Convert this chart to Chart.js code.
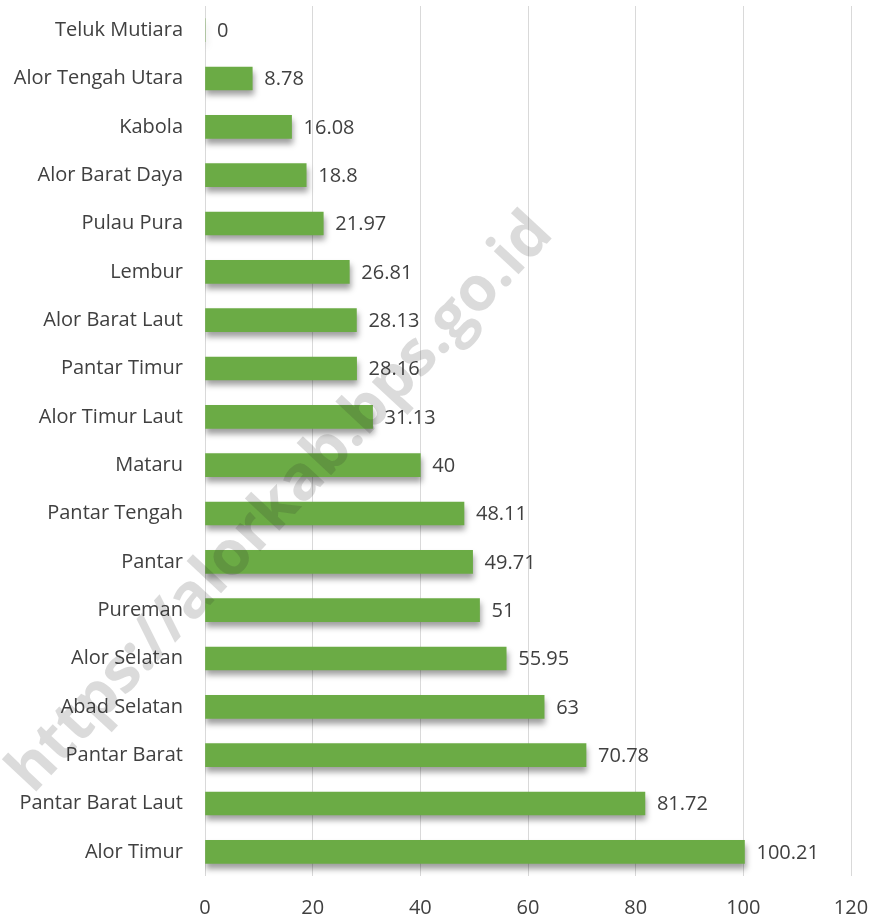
<!DOCTYPE html>
<html>
<head>
<meta charset="utf-8">
<script src="https://cdn.jsdelivr.net/npm/chart.js@4"></script>
<style>
  html, body { margin: 0; padding: 0; background: #ffffff; }
  #wrap { width: 877px; height: 919px; }
</style>
</head>
<body>
<div id="wrap"><canvas id="chart" width="877" height="919"></canvas></div>
<script>
// Kecamatan dan nilai (urutan atas ke bawah)
const categories = [
  "Teluk Mutiara", "Alor Tengah Utara", "Kabola", "Alor Barat Daya", "Pulau Pura",
  "Lembur", "Alor Barat Laut", "Pantar Timur", "Alor Timur Laut", "Mataru",
  "Pantar Tengah", "Pantar", "Pureman", "Alor Selatan", "Abad Selatan",
  "Pantar Barat", "Pantar Barat Laut", "Alor Timur"
];
const values = [
  0, 8.78, 16.08, 18.8, 21.97,
  26.81, 28.13, 28.16, 31.13, 40,
  48.11, 49.71, 51, 55.95, 63,
  70.78, 81.72, 100.21
];
const xTicks = [0, 20, 40, 60, 80, 100, 120];
const watermark = "https://alorkab.bps.go.id";

const FONT = "'Open Sans', 'Liberation Sans', sans-serif";

// bayangan di bawah batang
const barShadow = {
  id: "barShadow",
  beforeDatasetDraw(chart) {
    const ctx = chart.ctx;
    ctx.save();
    ctx.shadowColor = "rgba(0,0,0,0.38)";
    ctx.shadowBlur = 6;
    ctx.shadowOffsetX = 1;
    ctx.shadowOffsetY = 5;
  },
  afterDatasetDraw(chart) {
    chart.ctx.restore();
  }
};

// angka di ujung batang
const valueLabels = {
  id: "valueLabels",
  afterDatasetsDraw(chart) {
    const ctx = chart.ctx;
    const meta = chart.getDatasetMeta(0);
    ctx.save();
    ctx.font = "20px " + FONT;
    ctx.fillStyle = "#404040";
    ctx.textAlign = "left";
    ctx.textBaseline = "middle";
    meta.data.forEach((bar, i) => {
      ctx.fillText(String(values[i]), bar.x + 12, bar.y + 1);
    });
    ctx.restore();
  }
};

// tanda air diagonal
const watermarkText = {
  id: "watermarkText",
  afterDraw(chart) {
    const ctx = chart.ctx;
    ctx.save();
    ctx.translate(281, 503);
    ctx.rotate(-47 * Math.PI / 180);
    ctx.font = "bold 62px " + FONT;
    ctx.fillStyle = "rgba(40,40,40,0.17)";
    ctx.textAlign = "center";
    ctx.textBaseline = "middle";
    ctx.fillText(watermark, 0, 0);
    ctx.restore();
  }
};

function createBarChart() {
  const ctx = document.getElementById("chart").getContext("2d");

  new Chart(ctx, {
    type: "bar",
    data: {
      labels: categories,
      datasets: [
        {
          data: values,
          backgroundColor: "#6bab45",
          borderWidth: 0,
          barThickness: 23,
        },
      ],
    },
    options: {
      indexAxis: "y",
      responsive: false,
      animation: false,
      layout: { padding: { left: 0, right: 26, top: 6, bottom: 0 } },
      plugins: {
        legend: { display: false },
        tooltip: { enabled: false },
      },
      scales: {
        x: {
          min: 0,
          max: 120,
          afterBuildTicks: (scale) => {
            scale.ticks = xTicks.map((v) => ({ value: v }));
          },
          afterFit: (scale) => {
            scale.height = 43;
            scale.paddingLeft = 0;
            scale.paddingRight = 0;
          },
          grid: {
            color: "#d9d9d9",
            drawTicks: false,
          },
          border: { display: false },
          ticks: {
            color: "#404040",
            padding: 20,
            font: { size: 20, family: FONT },
          },
        },
        y: {
          afterFit: (scale) => {
            scale.width = 205;
            scale.paddingTop = 0;
            scale.paddingBottom = 0;
          },
          grid: { display: false },
          border: { display: false },
          ticks: {
            color: "#404040",
            padding: 14,
            font: { size: 20, family: FONT },
          },
        },
      },
    },
    plugins: [barShadow, valueLabels, watermarkText],
  });
}

createBarChart();
</script>
</body>
</html>
